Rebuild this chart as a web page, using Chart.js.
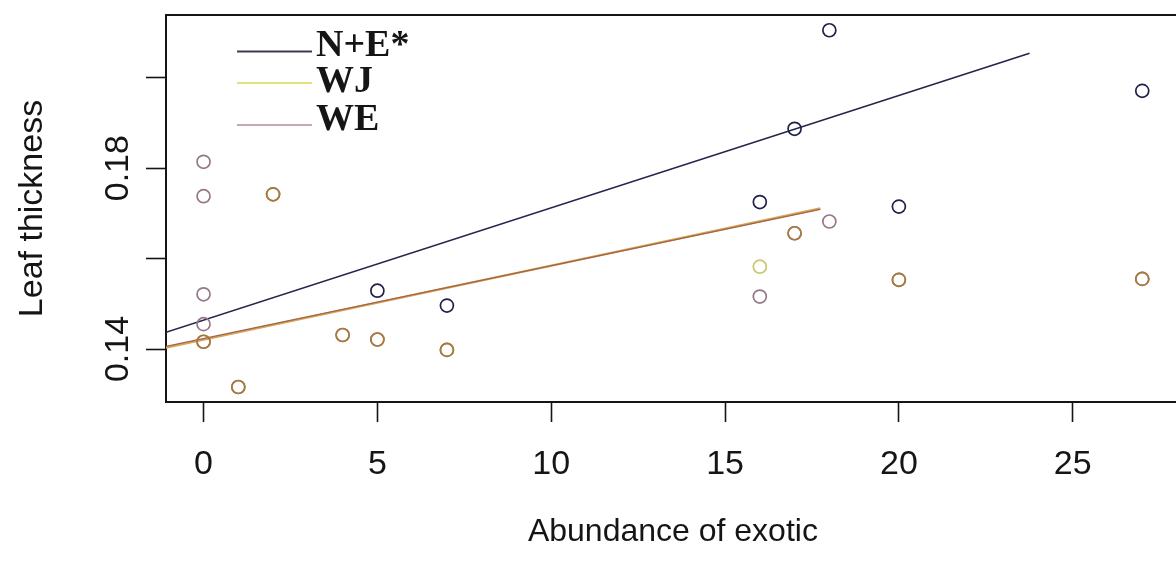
<!DOCTYPE html>
<html>
<head>
<meta charset="utf-8">
<title>Leaf thickness vs abundance of exotic</title>
<script src="https://cdn.jsdelivr.net/npm/chart.js@4.4.1/dist/chart.umd.min.js"></script>
<style>
    html, body { margin: 0; padding: 0; background: #fff; }
    #wrap { width: 1176px; height: 565px; overflow: hidden; }
</style>
</head>
<body>
<div id="wrap"><canvas id="leafChart" width="1188" height="565"></canvas></div>
<script>
// series names (as shown in the key)
const seriesNames = ['N+E*', 'WJ', 'WE'];

// observed points
const nePointsX = [5, 7, 16, 17, 18, 20, 27];
const nePointsY = [0.1529, 0.1496, 0.1725, 0.1887, 0.2105, 0.1715, 0.1971];
const wjPointsX = [0, 1, 2, 4, 5, 7, 16, 17, 20, 27];
const wjPointsY = [0.1416, 0.1316, 0.1742, 0.1431, 0.1421, 0.1398, 0.1582, 0.1656, 0.1553, 0.1555];
const wePointsX = [0, 0, 0, 0, 0, 1, 2, 4, 5, 7, 16, 17, 18, 20, 27];
const wePointsY = [0.1814, 0.1738, 0.1521, 0.1455, 0.1416, 0.1316, 0.1742, 0.1431, 0.1421, 0.1398, 0.1516, 0.1656, 0.1682, 0.1553, 0.1555];

// fitted lines (end points)
const neFitX = [-1.08, 23.76];
const neFitY = [0.1437, 0.2054];
const wjFitX = [-1.08, 17.74];
const wjFitY = [0.1403, 0.1711];
const weFitX = [-1.08, 17.74];
const weFitY = [0.1406, 0.1709];

// axes
const xRange = [-1.08, 28.08];
const yRange = [0.12828, 0.21387];
const xTicks = [0, 5, 10, 15, 20, 25];
const xTickLabels = ['0', '5', '10', '15', '20', '25'];
const yTicks = [0.14, 0.16, 0.18, 0.20];
const yTickLabels = ['0.14', '', '0.18', ''];

// colours
const neColor = '#20204a';
const wjColor = '#c8c870';
const weColor = '#94788a';
const bothColor = '#a67a46';
const keyColors = ['#3a3a58', '#e4e07c', '#c8a6b2'];
const inkColor = '#151515';

const sansFont = '"Liberation Sans", Arial, sans-serif';

function toPoints(xs, ys) {
    return xs.map((x, i) => ({ x: x, y: ys[i] }));
}

// points shared by WJ and WE look brown
function sharedColors(xs, ys, otherXs, otherYs, ownColor) {
    return xs.map((x, i) => {
        const shared = otherXs.some((ox, j) => ox === x && otherYs[j] === ys[i]);
        return shared ? bothColor : ownColor;
    });
}

function pointSet(label, xs, ys, colors) {
    return {
        label: label,
        data: toPoints(xs, ys),
        showLine: false,
        pointStyle: 'circle',
        pointRadius: 6.5,
        pointHoverRadius: 6.5,
        pointBorderWidth: 1.7,
        pointBackgroundColor: 'rgba(0,0,0,0)',
        pointBorderColor: colors
    };
}

function fitSet(label, xs, ys, color, width) {
    return {
        label: label,
        data: toPoints(xs, ys),
        showLine: true,
        borderColor: color,
        borderWidth: width,
        pointRadius: 0,
        fill: false
    };
}

// key in the upper left corner of the plot
const keyLineY = [36.5, 68, 110];
const keyTextY = [31.5, 67, 105.5];
const seriesKey = {
    id: 'seriesKey',
    afterDatasetsDraw(chart) {
        const { ctx, chartArea } = chart;
        const x0 = chartArea.left + 71;
        ctx.save();
        ctx.font = 'bold 38px "Liberation Serif", "Times New Roman", serif';
        ctx.textBaseline = 'middle';
        ctx.textAlign = 'left';
        seriesNames.forEach((name, i) => {
            const ly = chartArea.top + keyLineY[i];
            ctx.strokeStyle = keyColors[i];
            ctx.lineWidth = 2;
            ctx.beginPath();
            ctx.moveTo(x0, ly);
            ctx.lineTo(x0 + 75, ly);
            ctx.stroke();
            ctx.fillStyle = inkColor;
            ctx.fillText(name, x0 + 79, chartArea.top + keyTextY[i]);
        });
        ctx.restore();
    }
};

const ctx = document.getElementById('leafChart').getContext('2d');
new Chart(ctx, {
    type: 'scatter',
    data: {
        datasets: [
            pointSet(seriesNames[0], nePointsX, nePointsY, nePointsX.map(() => neColor)),
            pointSet(seriesNames[1], wjPointsX, wjPointsY, sharedColors(wjPointsX, wjPointsY, wePointsX, wePointsY, wjColor)),
            pointSet(seriesNames[2], wePointsX, wePointsY, sharedColors(wePointsX, wePointsY, wjPointsX, wjPointsY, weColor)),
            fitSet(seriesNames[0] + ' fit', neFitX, neFitY, '#24244c', 1.6),
            fitSet(seriesNames[2] + ' fit', weFitX, weFitY, '#a06448', 1.3),
            fitSet(seriesNames[1] + ' fit', wjFitX, wjFitY, '#d6a456', 2.2)
        ]
    },
    options: {
        responsive: false,
        animation: false,
        devicePixelRatio: 1,
        layout: { padding: { top: 15, right: 2, bottom: 0, left: 0 } },
        plugins: {
            legend: { display: false },
            tooltip: { enabled: false }
        },
        scales: {
            x: {
                type: 'linear',
                position: 'bottom',
                min: xRange[0],
                max: xRange[1],
                afterBuildTicks: axis => { axis.ticks = xTicks.map(v => ({ value: v })); },
                afterFit: axis => { axis.height = 163; },
                ticks: {
                    color: inkColor,
                    font: { family: sansFont, size: 34 },
                    padding: 22,
                    maxRotation: 0,
                    autoSkip: false,
                    callback: (v, i) => xTickLabels[i]
                },
                grid: {
                    drawOnChartArea: false,
                    drawTicks: true,
                    tickLength: 20,
                    tickWidth: 1.6,
                    tickColor: inkColor
                },
                border: { display: true, color: inkColor, width: 2 },
                title: {
                    display: true,
                    text: 'Abundance of exotic',
                    color: inkColor,
                    font: { family: sansFont, size: 32 },
                    padding: { top: 0, bottom: 14 }
                }
            },
            xTop: {
                type: 'linear',
                axis: 'x',
                position: 'top',
                min: xRange[0],
                max: xRange[1],
                afterFit: axis => { axis.height = 0; },
                ticks: { display: false },
                grid: { display: false, drawTicks: false },
                border: { display: true, color: inkColor, width: 2 }
            },
            y: {
                type: 'linear',
                min: yRange[0],
                max: yRange[1],
                afterBuildTicks: axis => { axis.ticks = yTicks.map(v => ({ value: v })); },
                afterFit: axis => { axis.width = 166; },
                ticks: {
                    color: inkColor,
                    font: { family: sansFont, size: 34 },
                    minRotation: 90,
                    maxRotation: 90,
                    crossAlign: 'center',
                    padding: -6,
                    autoSkip: false,
                    callback: (v, i) => yTickLabels[i]
                },
                grid: {
                    drawOnChartArea: false,
                    drawTicks: true,
                    tickLength: 20,
                    tickWidth: 1.6,
                    tickColor: inkColor
                },
                border: { display: true, color: inkColor, width: 2 },
                title: {
                    display: true,
                    text: 'Leaf thickness',
                    color: inkColor,
                    font: { family: sansFont, size: 34 },
                    padding: { top: 12, bottom: 0 }
                }
            }
        }
    },
    plugins: [seriesKey]
});
</script>
</body>
</html>
